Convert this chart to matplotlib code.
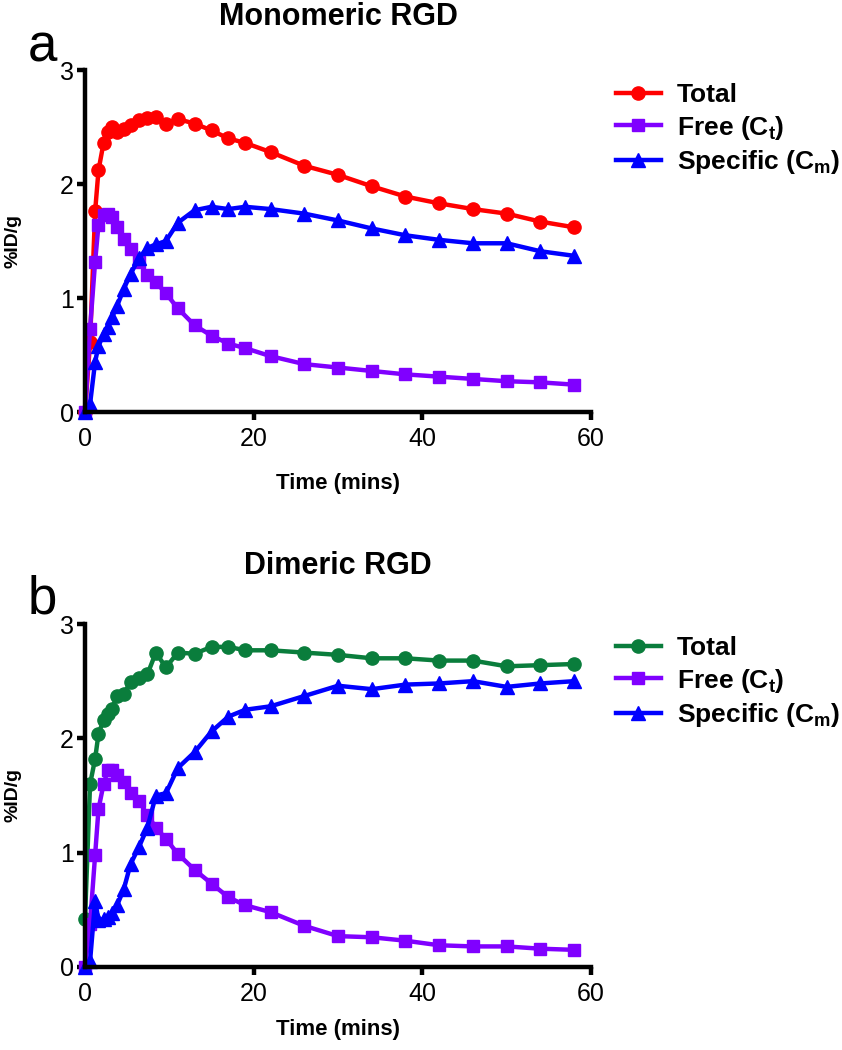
import matplotlib
matplotlib.use('Agg')
import matplotlib.pyplot as plt

# time points (mins)
t = [0, 0.6, 1.2, 1.6, 2.2, 2.7, 3.2, 3.8, 4.6, 5.4, 6.4, 7.4, 8.4, 9.6, 11, 13, 15,
     17, 19, 22, 26, 30, 34, 38, 42, 46, 50, 54, 58]

# monomeric RGD
mono_total = [0, 0.61, 1.76, 2.12, 2.36, 2.46, 2.50, 2.46, 2.48, 2.52, 2.56, 2.58, 2.59,
              2.53, 2.57, 2.53, 2.47, 2.40, 2.36, 2.28, 2.16, 2.08, 1.98, 1.89, 1.83,
              1.78, 1.74, 1.67, 1.62]
mono_free = [0, 0.73, 1.32, 1.64, 1.73, 1.74, 1.71, 1.62, 1.52, 1.43, 1.32, 1.20, 1.14,
             1.04, 0.91, 0.76, 0.67, 0.60, 0.56, 0.49, 0.42, 0.39, 0.36, 0.33, 0.31,
             0.29, 0.27, 0.26, 0.24]
mono_spec = [0, 0.07, 0.44, 0.58, 0.68, 0.75, 0.83, 0.93, 1.08, 1.21, 1.35, 1.44, 1.47,
             1.50, 1.66, 1.77, 1.80, 1.78, 1.80, 1.78, 1.74, 1.68, 1.61, 1.55, 1.51,
             1.48, 1.48, 1.41, 1.37]

# dimeric RGD
dim_total = [0.42, 1.60, 1.82, 2.04, 2.16, 2.21, 2.26, 2.37, 2.39, 2.49, 2.53, 2.56, 2.75,
             2.62, 2.75, 2.74, 2.80, 2.80, 2.77, 2.77, 2.75, 2.73, 2.70, 2.70, 2.68,
             2.68, 2.63, 2.64, 2.65]
dim_free = [0, 0.38, 0.98, 1.38, 1.60, 1.72, 1.72, 1.68, 1.62, 1.52, 1.45, 1.33, 1.22,
            1.12, 0.99, 0.85, 0.73, 0.61, 0.54, 0.48, 0.36, 0.27, 0.26, 0.23, 0.19,
            0.18, 0.18, 0.16, 0.15]
dim_spec = [0, 0.05, 0.58, 0.41, 0.42, 0.44, 0.47, 0.54, 0.68, 0.90, 1.05, 1.22, 1.50,
            1.52, 1.74, 1.88, 2.06, 2.19, 2.25, 2.28, 2.37, 2.46, 2.43, 2.47, 2.48,
            2.50, 2.45, 2.48, 2.50]

labels = ['Total', 'Free (C$_{t}$)', 'Specific (C$_{m}$)']
xticks = [0, 20, 40, 60]
yticks = [0, 1, 2, 3]

plt.rcParams['font.family'] = ['Liberation Sans', 'DejaVu Sans']
plt.rcParams['mathtext.fontset'] = 'custom'
plt.rcParams['mathtext.rm'] = 'Liberation Sans:bold'
plt.rcParams['mathtext.it'] = 'Liberation Sans:bold'
plt.rcParams['mathtext.bf'] = 'Liberation Sans:bold'

W, H = 842, 1050
fig = plt.figure(figsize=(W / 100, H / 100), dpi=100)


def panel(bottom_px, top_px, total, free, spec, total_color, title, letter,
          title_y, letter_y, xlabel_y, leg_top):
    ax = fig.add_axes([85 / W, 1 - bottom_px / H, 506 / W, (bottom_px - top_px) / H])
    lw = 3.2
    ax.plot(t, total, '-o', color=total_color, lw=lw, ms=9.5, clip_on=False, label=labels[0])
    ax.plot(t, free, '-s', color='#8000FF', lw=lw, ms=8.5, clip_on=False, label=labels[1])
    ax.plot(t, spec, '-^', color='#0000FF', lw=lw, ms=9.5, clip_on=False, label=labels[2])
    ax.set_xlim(0, 60)
    ax.set_ylim(0, 3)
    ax.set_xticks(xticks)
    ax.set_yticks(yticks)
    for s in ['top', 'right']:
        ax.spines[s].set_visible(False)
    for s in ['left', 'bottom']:
        ax.spines[s].set_linewidth(3.2)
    ax.tick_params(axis='both', direction='out', length=6, width=3.2, labelsize=18)
    ax.tick_params(axis='y', pad=2)
    ax.tick_params(axis='x', pad=5)
    fig.text(338 / W, 1 - title_y / H, title, ha='center', va='center',
             fontsize=22, fontweight='bold')
    fig.text(28 / W, 1 - letter_y / H, letter, ha='left', va='baseline', fontsize=38)
    fig.text(338 / W, 1 - xlabel_y / H, 'Time (mins)', ha='center', va='center',
             fontsize=16, fontweight='bold')
    fig.text(13 / W, 1 - (bottom_px + top_px) / 2 / H, '%ID/g', ha='center', va='center',
             rotation=90, fontsize=14, fontweight='bold')
    ax.legend(loc='upper left', bbox_to_anchor=(616 / W, 1 - leg_top / H),
              bbox_transform=fig.transFigure, frameon=False, borderpad=0,
              borderaxespad=0, handlelength=1.7, handletextpad=0.6, labelspacing=0.25,
              prop={'weight': 'bold', 'size': 19})
    return ax


panel(412, 70, mono_total, mono_free, mono_spec, '#FF0000', 'Monomeric RGD', 'a',
      17, 62, 484, 83)
panel(967, 624, dim_total, dim_free, dim_spec, '#0A7D3C', 'Dimeric RGD', 'b',
      566, 613, 1030, 636)

fig.savefig('out.png', dpi=100)
